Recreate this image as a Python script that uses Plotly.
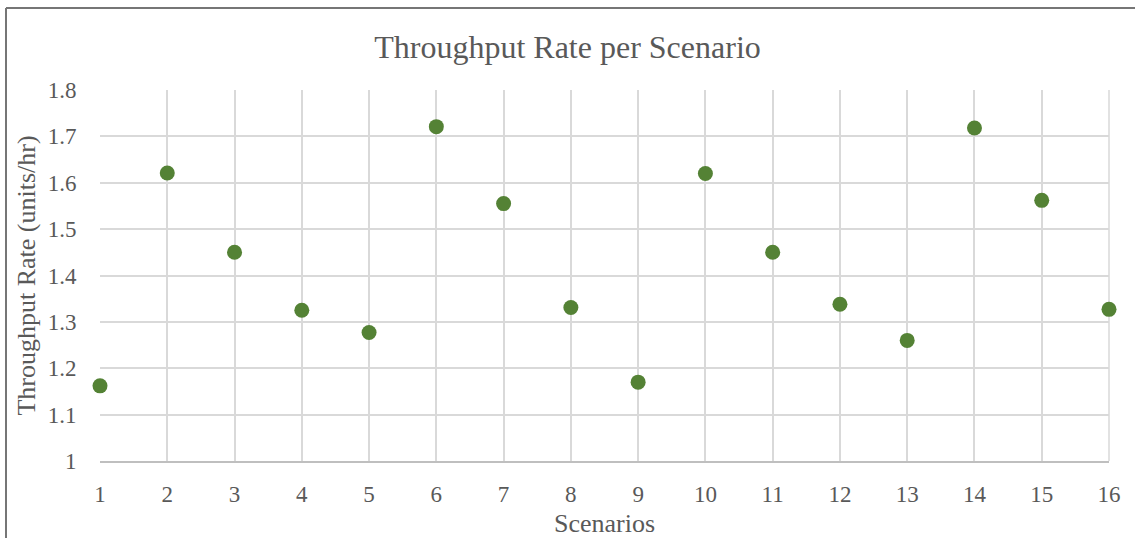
import plotly.graph_objects as go

scenarios = list(range(1, 17))
throughput = [1.162, 1.621, 1.450, 1.325, 1.277, 1.721, 1.555, 1.331,
              1.170, 1.620, 1.450, 1.338, 1.260, 1.718, 1.562, 1.327]
y_ticks = [1.0, 1.1, 1.2, 1.3, 1.4, 1.5, 1.6, 1.7, 1.8]
y_tick_labels = ["1", "1.1", "1.2", "1.3", "1.4", "1.5", "1.6", "1.7", "1.8"]

W, H = 1135, 538
ml, mr, mt, mb = 100, 26, 90, 77
pw, ph = W - ml - mr, H - mt - mb

FONT = "Liberation Serif, Times New Roman, serif"
TXT = "#595959"

fig = go.Figure(go.Scatter(
    x=scenarios, y=throughput, mode="markers",
    marker=dict(size=15, color="#548235", line=dict(width=0)),
    cliponaxis=False, showlegend=False,
))

def px_to_paper_x(px):
    return (px - ml) / pw

def px_to_paper_y(py):
    return 1 - (py - mt) / ph

fig.update_layout(
    width=W, height=H,
    margin=dict(l=ml, r=mr, t=mt, b=mb, autoexpand=False),
    paper_bgcolor="white", plot_bgcolor="white",
    font=dict(family=FONT, color=TXT),
    title=dict(text="Throughput Rate per Scenario", x=0.5, xref="container",
               xanchor="center", y=1 - 47 / H, yref="container", yanchor="middle",
               font=dict(size=32, color=TXT, family=FONT)),
    xaxis=dict(range=[1, 16], tickvals=scenarios, ticktext=[str(s) for s in scenarios],
               automargin=False,
               showgrid=True, gridcolor="#d9d9d9", gridwidth=1.5,
               showline=True, linecolor="#bfbfbf", linewidth=1.5,
               zeroline=False, ticks="outside", ticklen=12, tickcolor="rgba(0,0,0,0)",
               tickfont=dict(size=23, color=TXT),
               title=dict(text="Scenarios", font=dict(size=26, color=TXT), standoff=7)),
    yaxis=dict(range=[1.0, 1.8], tickvals=y_ticks, ticktext=y_tick_labels,
               automargin=False,
               showgrid=True, gridcolor="#d9d9d9", gridwidth=1.5,
               showline=False, zeroline=False, ticks="outside", ticklen=18,
               tickcolor="rgba(0,0,0,0)",
               tickfont=dict(size=23, color=TXT),
               title=dict(text="Throughput Rate (units/hr)", font=dict(size=26, color=TXT),
                          standoff=4)),
    shapes=[
        dict(type="line", xref="paper", yref="paper",
             x0=px_to_paper_x(6), x1=px_to_paper_x(6),
             y0=px_to_paper_y(8), y1=px_to_paper_y(560),
             line=dict(color="#767676", width=2)),
        dict(type="line", xref="paper", yref="paper",
             x0=px_to_paper_x(6), x1=px_to_paper_x(1160),
             y0=px_to_paper_y(8), y1=px_to_paper_y(8),
             line=dict(color="#767676", width=2)),
        dict(type="line", xref="paper", yref="paper",
             x0=1, x1=1, y0=0, y1=1,
             line=dict(color="#d9d9d9", width=1.5), layer="below"),
    ],
)

fig.write_html("out.html")
